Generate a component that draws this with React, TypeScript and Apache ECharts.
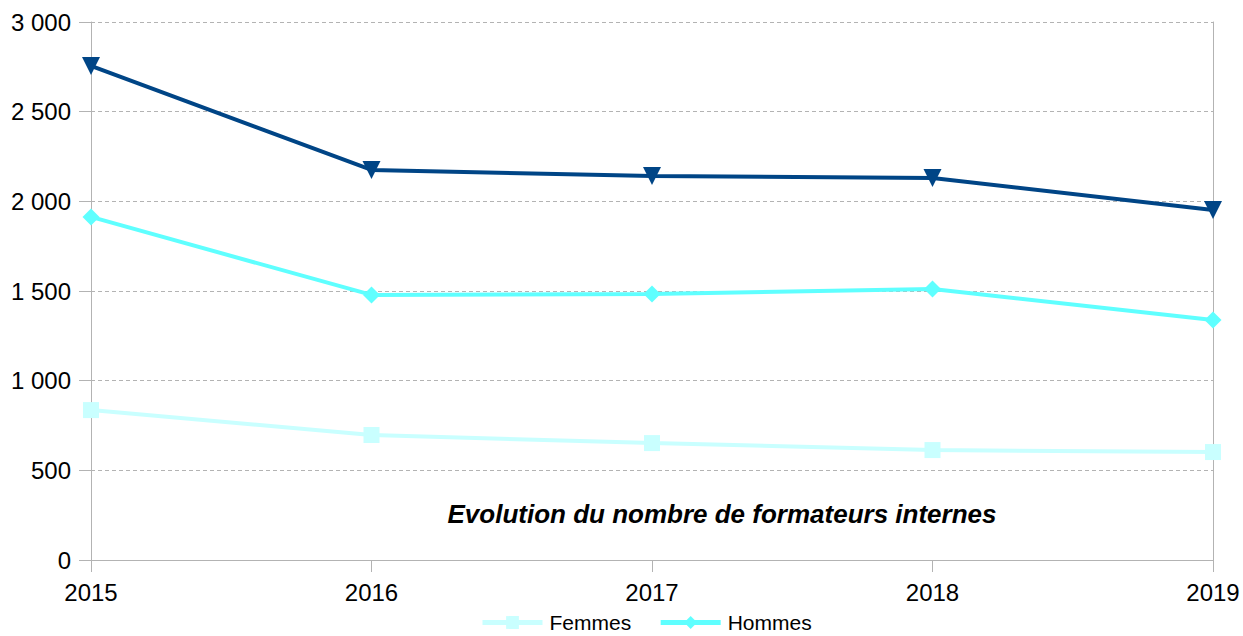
import React, { useEffect, useRef } from "react";
import * as echarts from "echarts";

const years = ["2015", "2016", "2017", "2018", "2019"];
const total = [2755, 2175, 2141, 2130, 1952];
const hommes = [1913, 1478, 1483, 1511, 1338];
const femmes = [836, 697, 652, 613, 602];
const titleText = "Evolution du nombre de formateurs internes";

const FONT = "'Liberation Sans', Arial, sans-serif";

export default function App() {
  const ref = useRef<HTMLDivElement>(null);
  useEffect(() => {
    const chart = echarts.init(ref.current!, null, { renderer: "svg" });
    chart.setOption({
      animation: false,
      backgroundColor: "#ffffff",
      textStyle: { fontFamily: FONT },
      title: {
        text: titleText,
        left: 717,
        top: 496,
        textAlign: "center",
        textStyle: { fontFamily: FONT, fontSize: 26, fontWeight: "bold", fontStyle: "italic", color: "#000" },
      },
      legend: {
        top: 607,
        left: 475,
        itemWidth: 60,
        itemHeight: 16,
        itemGap: 27,
        lineStyle: { width: 5 },
        data: ["Femmes", "Hommes"],
        textStyle: { fontFamily: FONT, fontSize: 21, color: "#000", padding: [0, 0, 0, 2] },
      },
      grid: { left: 91, right: 30, top: 22, bottom: 76, containLabel: false },
      xAxis: {
        type: "category",
        data: years,
        boundaryGap: false,
        axisLine: { lineStyle: { color: "#b3b3b3", width: 1 } },
        axisTick: { show: true, length: 12, lineStyle: { color: "#b3b3b3" } },
        axisLabel: { fontFamily: FONT, fontSize: 24, color: "#000", margin: 20 },
        splitLine: { show: false },
      },
      yAxis: [
        {
          type: "value",
          min: 0,
          max: 3000,
          interval: 500,
          axisLine: { show: true, lineStyle: { color: "#b3b3b3", width: 1 } },
          axisTick: { show: true, length: 12, lineStyle: { color: "#b3b3b3" } },
          axisLabel: {
            fontFamily: FONT,
            fontSize: 24,
            color: "#000",
            margin: 20,
            formatter: (v: number) => String(v).replace(/\B(?=(\d{3})+(?!\d))/g, " "),
          },
          splitLine: { show: true, lineStyle: { color: "#b3b3b3", type: [4, 3], width: 1 } },
        },
        {
          type: "value",
          min: 0,
          max: 3000,
          interval: 500,
          position: "right",
          axisLine: { show: true, lineStyle: { color: "#b3b3b3", width: 1 } },
          axisTick: { show: false },
          axisLabel: { show: false },
          splitLine: { show: false },
        },
      ],
      series: [
        {
          name: "Total",
          type: "line",
          data: total,
          symbol: "triangle",
          symbolRotate: 180,
          symbolSize: 18,
          lineStyle: { color: "#004586", width: 4 },
          itemStyle: { color: "#004586" },
          z: 4,
        },
        {
          name: "Hommes",
          type: "line",
          data: hommes,
          symbol: "diamond",
          symbolSize: 17,
          lineStyle: { color: "#5fffff", width: 4 },
          itemStyle: { color: "#5fffff" },
          z: 3,
        },
        {
          name: "Femmes",
          type: "line",
          data: femmes,
          symbol: "rect",
          symbolSize: 16,
          lineStyle: { color: "#c9ffff", width: 4 },
          itemStyle: { color: "#c9ffff" },
          z: 2,
        },
      ],
    });
    return () => chart.dispose();
  }, []);
  return <div ref={ref} style={{ width: 1243, height: 636, position: "absolute", left: 0, top: 0 }} />;
}
